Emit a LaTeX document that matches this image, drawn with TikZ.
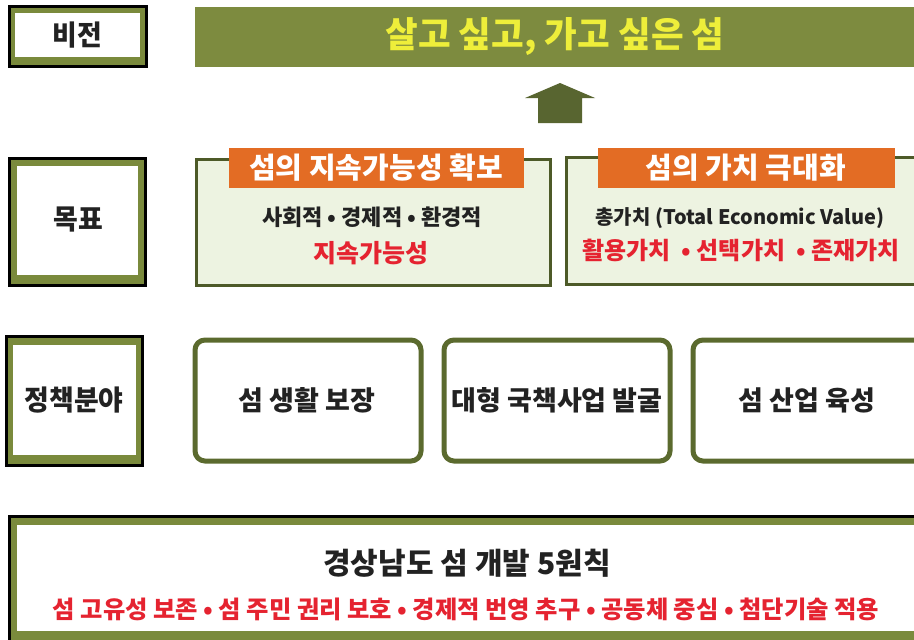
\documentclass[tikz,border=0pt]{standalone}
\usepackage{fontspec}
\setmainfont{Noto Sans CJK KR}
\newfontfamily\krc[FakeStretch=0.96]{Noto Sans CJK KR}
\definecolor{olive}{HTML}{7D8B3F}
\definecolor{frameolive}{HTML}{7A8A3C}
\definecolor{darkolive}{HTML}{4D5A28}
\definecolor{pololive}{HTML}{5B6A2E}
\definecolor{arrowolive}{HTML}{586530}
\definecolor{hdrorange}{HTML}{E36C24}
\definecolor{paleg}{HTML}{EDF3E1}
\definecolor{vyellow}{HTML}{EEEE3A}
\definecolor{kred}{HTML}{E52330}
\definecolor{txt}{HTML}{222222}
\begin{document}
\begin{tikzpicture}[x=1pt,y=-1pt,
  frame/.style={draw=black, line width=3pt, fill=frameolive},
  inner/.style={fill=white},
  lbltext/.style={font=\krc\bfseries\fontsize{28}{30}\selectfont, text=txt},
  goalbox/.style={draw=darkolive, line width=3pt, fill=paleg},
  header/.style={fill=hdrorange, minimum height=40pt, inner sep=0pt, text=white,
    font=\bfseries\fontsize{29}{32}\selectfont},
  goaltext/.style={font=\bfseries\fontsize{20}{24}\selectfont, text=txt},
  redtext/.style={font=\bfseries\fontsize{24}{28}\selectfont, text=kred},
  polbox/.style={draw=pololive, line width=5pt, rounded corners=10pt, fill=white},
  poltext/.style={font=\bfseries\fontsize{27}{30}\selectfont, text=txt}]
\useasboundingbox (0,0) rectangle (914,640);
\fill[white] (0,0) rectangle (914,640);
\clip (0,0) rectangle (914,640);
% ---- vision row
\filldraw[frame] (9,6) rectangle (146,66);
\fill[inner] (15,13) rectangle (140,57);
\node[lbltext] (visionlbl) at (77.5,35) {비전};
\fill[olive] (195,7) rectangle (920,67);
\node[font=\bfseries\fontsize{35.5}{38}\selectfont, text=vyellow] (vision) at (555,37) {살고 싶고, 가고 싶은 섬};
% ---- arrow
\fill[arrowolive] (560,83) -- (595,98) -- (582,98) -- (582,123) -- (538,123) -- (538,98) -- (525,98) -- cycle;
% ---- goal row
\filldraw[frame] (9,158) rectangle (145,285);
\fill[inner] (17,166) rectangle (138,275);
\node[lbltext] (goallbl) at (78,220) {목표};
\draw[goalbox] (196,159) rectangle (550,285);
\node[header, minimum width=295pt] (g1h) at (376,168) {섬의 지속가능성 확보};
\node[goaltext, font=\bfseries\fontsize{22}{24}\selectfont] (g1a) at (372,217) {사회적 • 경제적 • 환경적};
\node[redtext, font=\bfseries\fontsize{25}{28}\selectfont] (g1b) at (371,253) {지속가능성};
\draw[goalbox] (566,157) rectangle (935,284);
\node[header, minimum width=297pt] (g2h) at (746,168) {섬의 가치 극대화};
\node[goaltext] (g2a) at (740,218) {총가치 (Total Economic Value)};
\node[redtext] (g2b) at (741,250) {활용가치 ~• 선택가치 ~• 존재가치};
% ---- policy row
\filldraw[frame] (6,336) rectangle (142,465);
\fill[inner] (13,345) rectangle (136,455);
\node[lbltext] (pollbl) at (74,400) {정책분야};
\draw[polbox] (195,340) rectangle (421,461);
\node[poltext] (p1) at (307,400) {섬 생활 보장};
\draw[polbox] (444,340) rectangle (670,461);
\node[poltext] (p2) at (557,400) {대형 국책사업 발굴};
\draw[polbox] (693,340) rectangle (925,461);
\node[poltext] (p3) at (807,400) {섬 산업 육성};
% ---- principles
\filldraw[frame] (9,516) rectangle (935,650);
\fill[inner] (17,525) rectangle (925,631);
\node[font=\bfseries\fontsize{30}{32}\selectfont, text=txt] (prtitle) at (467,563) {경상남도 섬 개발 5원칙};
\node[font=\bfseries\fontsize{24.3}{26}\selectfont, text=kred] (prlist) at (466,609) {섬 고유성 보존 • 섬 주민 권리 보호 • 경제적 번영 추구 • 공동체 중심 • 첨단기술 적용};
\end{tikzpicture}
\end{document}
